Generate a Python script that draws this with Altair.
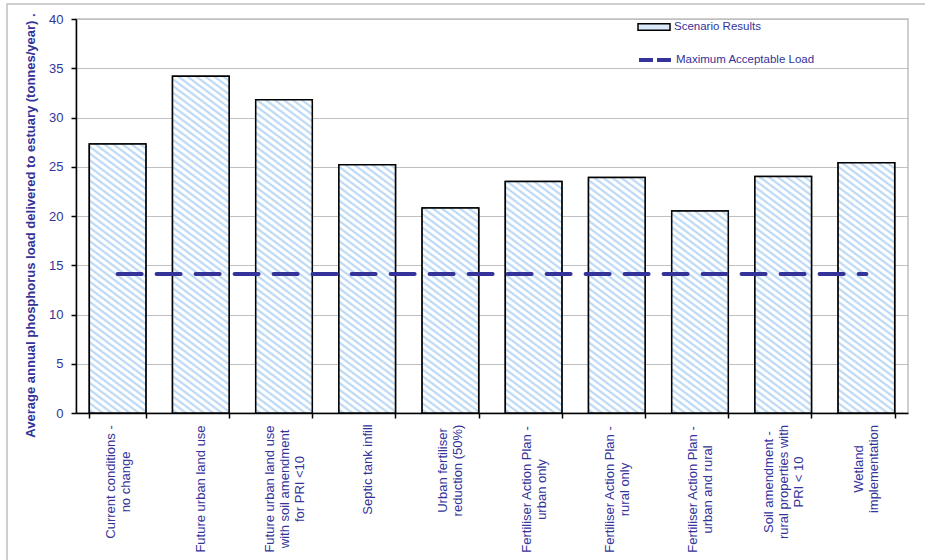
import altair as alt
import pandas as pd

# Scenario names (line breaks mark the wrapped axis labels)
scenarios = [
    "Current conditions -\nno change",
    "Future urban land use",
    "Future urban land use\nwith soil amendment\nfor PRI <10",
    "Septic tank infill",
    "Urban fertiliser\nreduction (50%)",
    "Fertiliser Action Plan -\nurban only",
    "Fertiliser Action Plan -\nrural only",
    "Fertiliser Action Plan -\nurban and rural",
    "Soil amendment -\nrural properties with\nPRI < 10",
    "Wetland\nimplementation",
]

# Average annual phosphorus load per scenario (tonnes/year)
loads = [27.3, 34.2, 31.8, 25.2, 20.8, 23.5, 23.9, 20.5, 24.0, 25.4]

# Maximum acceptable load (tonnes/year)
max_load = 14.1

y_ticks = [0, 5, 10, 15, 20, 25, 30, 35, 40]

TEXT = "#333399"
GRID = "#c0c0c0"
HATCH = "#b0d2f2"

PLOT_W, PLOT_H = 832, 394
Y_MAX = 40
PAD_INNER, PAD_OUTER = 0.32, 0.16
LINE_H = 15

# Approximate pixel length of the longest line of each wrapped label
# (13px sans), keyed by its first line; used to top-align the blocks.
LABEL_LEN = {
    "Current conditions -": 113,
    "Future urban land use": 127,
    "Septic tank infill": 88,
    "Urban fertiliser": 90,
    "Fertiliser Action Plan -": 128,
    "Soil amendment -": 113,
    "Wetland": 87,
}
LABEL_GAP = 7

df = pd.DataFrame({
    "idx": list(range(len(scenarios))),
    "scenario": scenarios,
    "load": loads,
    "limit": [max_load] * len(scenarios),
    "bar_series": ["Scenario Results"] * len(scenarios),
    "line_series": ["Maximum Acceptable Load"] * len(scenarios),
})

# Wrapped labels are shifted by half a line per extra line so that each
# block stays centred on its tick.
n_lines = "length(split(datum.value, '\\n'))"
label_shift = {
    "condition": [
        {"test": f"{n_lines} == 2", "value": -LINE_H / 2},
        {"test": f"{n_lines} == 3", "value": -LINE_H},
    ],
    "value": 0,
}

first_line = "split(datum.value, '\\n')[0]"
label_pad = {
    "condition": [
        {"test": f"{first_line} == '{k}'", "value": LABEL_GAP + v / 2}
        for k, v in LABEL_LEN.items()
    ],
    "value": LABEL_GAP + 64,
}

x_enc = alt.X(
    "scenario:N",
    sort=scenarios,
    scale=alt.Scale(paddingInner=PAD_INNER, paddingOuter=PAD_OUTER),
    axis=alt.Axis(
        title=None,
        labelAngle=270,
        labelAlign="center",
        labelBaseline="middle",
        labelExpr="split(datum.label, '\\n')",
        labelLineHeight=LINE_H,
        labelOffset=label_shift,
        labelPadding=label_pad,
        labelFontSize=13,
        labelColor=TEXT,
        labelLimit=0,
        tickBand="extent",
        tickSize=5,
        tickColor="black",
        tickWidth=1.5,
        domainColor="black",
        domainWidth=1.5,
        grid=False,
    ),
)

x_plain = alt.X("scenario:N", sort=scenarios)
y_scale = alt.Scale(domain=[0, Y_MAX], nice=False)

bars = alt.Chart(df).mark_bar(stroke="black", strokeWidth=1.5).encode(
    x=x_enc,
    y=alt.Y(
        "load:Q",
        scale=y_scale,
        axis=alt.Axis(
            values=y_ticks,
            title="Average annual phosphorus load delivered to estuary (tonnes/year)  .",
            titleFontSize=13,
            titleFontWeight="bold",
            titleColor=TEXT,
            titlePadding=11,
            titleY=206,
            labelFontSize=13,
            labelColor=TEXT,
            labelPadding=8,
            tickSize=5,
            tickColor="black",
            tickWidth=1.5,
            domainColor="black",
            domainWidth=1.5,
            grid=True,
            gridColor=GRID,
            gridWidth=1,
        ),
    ),
    fill=alt.Fill(
        "bar_series:N",
        scale=alt.Scale(domain=["Scenario Results"], range=["#d9e9f8"]),
        legend=alt.Legend(
            title=None,
            orient="none",
            legendX=561,
            legendY=-9,
            padding=0,
            symbolType="M-1,-0.2H1V0.2H-1Z",
            symbolSize=1024,
            symbolStrokeColor="black",
            symbolStrokeWidth=1.5,
            labelFontSize=11.5,
            labelColor=TEXT,
            labelOffset=3,
        ),
    ),
)


def hatch_fill(value, slope=0.75, period=9.0):
    """Diagonal hatch for one bar, as a linear gradient in the bar's own box."""
    step = PLOT_W / (len(scenarios) - PAD_INNER + 2 * PAD_OUTER)
    w = step * (1 - PAD_INNER)
    h = value / Y_MAX * PLOT_H
    k = (slope / h + 1 / w) / ((slope / h) ** 2 + (1 / w) ** 2)
    n = (w * slope + h) / (period * slope)
    stops = []
    j = 0
    while j < n:
        for frac, col in ((0.0, "#ffffff"), (0.15, "#ffffff"), (0.5, HATCH), (0.85, "#ffffff")):
            off = (j + frac) / n
            if off <= 1:
                stops.append(alt.GradientStop(offset=off, color=col))
        j += 1
    return alt.LinearGradient(
        gradient="linear",
        stops=stops,
        x1=0, y1=1, x2=k * slope / h, y2=1 - k / w,
    )


hatched = [
    alt.Chart(df)
    .transform_filter(alt.FieldEqualPredicate(field="idx", equal=i))
    .mark_bar(fill=hatch_fill(v), stroke="black", strokeWidth=1.5)
    .encode(x=x_plain, y=alt.Y("load:Q", scale=y_scale))
    for i, v in enumerate(loads)
]

limit_line = alt.Chart(df).mark_line(
    strokeWidth=4, strokeDash=[24, 15], strokeCap="round"
).encode(
    x=x_plain,
    y=alt.Y("limit:Q", scale=y_scale),
    stroke=alt.Stroke(
        "line_series:N",
        scale=alt.Scale(domain=["Maximum Acceptable Load"], range=[TEXT]),
        legend=alt.Legend(
            title=None,
            orient="none",
            legendX=561,
            legendY=23,
            padding=0,
            symbolType="stroke",
            symbolSize=1024,
            symbolStrokeWidth=4,
            symbolDash=[14, 4],
            labelFontSize=11.5,
            labelColor=TEXT,
            labelOffset=3,
        ),
    ),
)

# Outer chart-area frame
frame = alt.Chart(pd.DataFrame({"frame": [0]})).mark_rect(
    fill=None, stroke=GRID, strokeWidth=1.5
).encode(
    x=alt.value(-69), x2=alt.value(900), y=alt.value(-15), y2=alt.value(600)
)

chart = (
    alt.layer(frame, bars, *hatched, limit_line)
    .properties(
        width=PLOT_W,
        height=PLOT_H,
        autosize="none",
        padding={"left": 76, "top": 19, "right": 17, "bottom": 147},
    )
    .configure(font="Liberation Sans", background="white")
    .configure_view(stroke=GRID, strokeWidth=1.5)
)

chart.save("out.html", embed_options={"renderer": "svg", "actions": False})
